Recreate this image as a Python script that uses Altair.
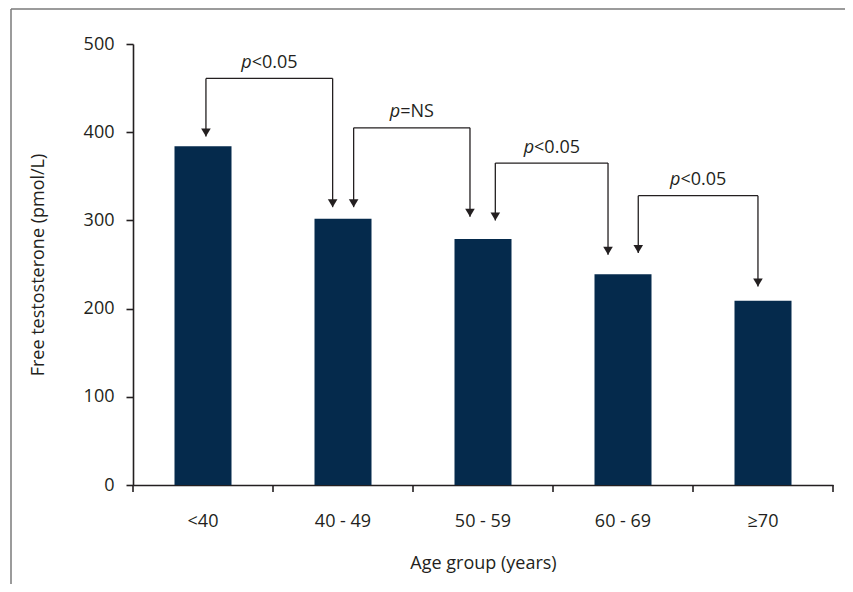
import altair as alt
import pandas as pd

# ---- data ----
age_groups = ["<40", "40 - 49", "50 - 59", "60 - 69", "≥70"]
free_t = [384, 302, 279, 239, 209]
y_ticks = [0, 100, 200, 300, 400, 500]
edge_positions = [0, 1, 2, 3, 4, 5]  # category boundaries (x ticks)

# comparison brackets (x in category units, y in pmol/L)
br_left = [0.521, 1.576, 2.588, 3.609]
br_right = [1.426, 2.407, 3.393, 4.464]
br_top = [461, 405, 365, 328]
tip_left = [395, 315, 300, 263]
tip_right = [315, 304, 261, 225]
br_p = ["p", "p", "p", "p"]
br_rest = ["<0.05", "=NS", "<0.05", "<0.05"]

# ---- styling ----
W, H = 700, 441
PAD_L, PAD_T, PAD_R, PAD_B = 125, 36, 12, 99
BAND = W / len(age_groups)
FONT = "Open Sans"
FS = 18
INK = "#231f20"
BAR = "#052a4c"
split_px = {"<0.05": -17.6, "=NS": -11.6}

bar_df = pd.DataFrame({"group": age_groups, "value": free_t})

seg_rows, arrow_rows, lab_rows = [], [], []
for L, R, T, tl, tr, p, rest in zip(br_left, br_right, br_top, tip_left, tip_right, br_p, br_rest):
    seg_rows += [
        {"x": L, "x2": L, "y": T, "y2": tl},
        {"x": L, "x2": R, "y": T, "y2": T},
        {"x": R, "x2": R, "y": T, "y2": tr},
    ]
    arrow_rows += [{"x": L, "y": tl}, {"x": R, "y": tr}]
    mid = (L + R) / 2
    lab_rows.append({"sx": mid + split_px[rest] / BAND, "y": T, "p": p, "rest": rest})

seg_df = pd.DataFrame(seg_rows)
arrow_df = pd.DataFrame(arrow_rows)
lab_df = pd.DataFrame(lab_rows)
edge_df = pd.DataFrame({"x": edge_positions})
one = pd.DataFrame({"a": [0]})

yscale = alt.Scale(domain=[0, 500], nice=False, zero=True)
xq = alt.Scale(domain=[0, 5], nice=False, zero=False)

frame_left = alt.Chart(one).mark_rule(color="#7a7a7a", strokeWidth=1.5).encode(
    x=alt.value(-122), y=alt.value(-35), y2=alt.value(H + PAD_B),
)
frame_top = alt.Chart(one).mark_rule(color="#7a7a7a", strokeWidth=1.5).encode(
    x=alt.value(-122), x2=alt.value(W + PAD_R), y=alt.value(-35),
)

bars = alt.Chart(bar_df).mark_bar(size=57, color=BAR).encode(
    x=alt.X(
        "group:N", sort=age_groups,
        scale=alt.Scale(paddingInner=0, paddingOuter=0),
        axis=alt.Axis(
            title="Age group (years)", ticks=False, tickSize=0, labelPadding=41,
            labelBaseline="alphabetic", labelAngle=0,
            domainColor=INK, domainWidth=1.6,
            titleY=83, titleBaseline="alphabetic",
        ),
    ),
    y=alt.Y(
        "value:Q", scale=yscale,
        axis=alt.Axis(
            values=y_ticks, title="Free testosterone (pmol/L)", orient="left",
            tickSize=7, tickColor=INK, tickWidth=1.6, labelPadding=12,
            domainColor=INK, domainWidth=1.6, grid=False,
            titleX=-90, titleBaseline="alphabetic",
        ),
    ),
)

xticks = alt.Chart(edge_df).mark_rule(color=INK, strokeWidth=1.6).encode(
    x=alt.X("x:Q", scale=xq, axis=None),
    y=alt.value(H), y2=alt.value(H + 7),
)

segs = alt.Chart(seg_df).mark_rule(color=INK, strokeWidth=1.3).encode(
    x=alt.X("x:Q", scale=xq, axis=None), x2="x2:Q",
    y=alt.Y("y:Q", scale=yscale, axis=None), y2="y2:Q",
)

arrows = alt.Chart(arrow_df).mark_point(
    shape="M-1.2,-2L1.2,-2L0,0Z", size=64, filled=True, opacity=1,
    color=INK, strokeWidth=0,
).encode(
    x=alt.X("x:Q", scale=xq, axis=None),
    y=alt.Y("y:Q", scale=yscale, axis=None),
)

text_p = alt.Chart(lab_df).mark_text(
    font=FONT, fontSize=FS, fontStyle="italic", align="right",
    baseline="alphabetic", dy=-10.5, color=INK,
).encode(
    x=alt.X("sx:Q", scale=xq, axis=None),
    y=alt.Y("y:Q", scale=yscale, axis=None),
    text="p:N",
)

text_rest = alt.Chart(lab_df).mark_text(
    font=FONT, fontSize=FS, align="left",
    baseline="alphabetic", dy=-10.5, color=INK,
).encode(
    x=alt.X("sx:Q", scale=xq, axis=None),
    y=alt.Y("y:Q", scale=yscale, axis=None),
    text="rest:N",
)

chart = alt.layer(
    frame_left, frame_top, bars, xticks, segs, arrows, text_p, text_rest
).resolve_scale(x="independent").resolve_axis(y="independent").properties(
    width=W, height=H,
    autosize=alt.AutoSizeParams(type="none"),
    padding={"left": PAD_L, "top": PAD_T, "right": PAD_R, "bottom": PAD_B},
    background="white",
).configure_view(strokeWidth=0).configure_axis(
    labelFont=FONT, titleFont=FONT, labelFontSize=FS, titleFontSize=FS,
    labelColor=INK, titleColor=INK, titleFontWeight="normal",
)

chart.save("out.html", embed_options={"renderer": "svg", "actions": False})
